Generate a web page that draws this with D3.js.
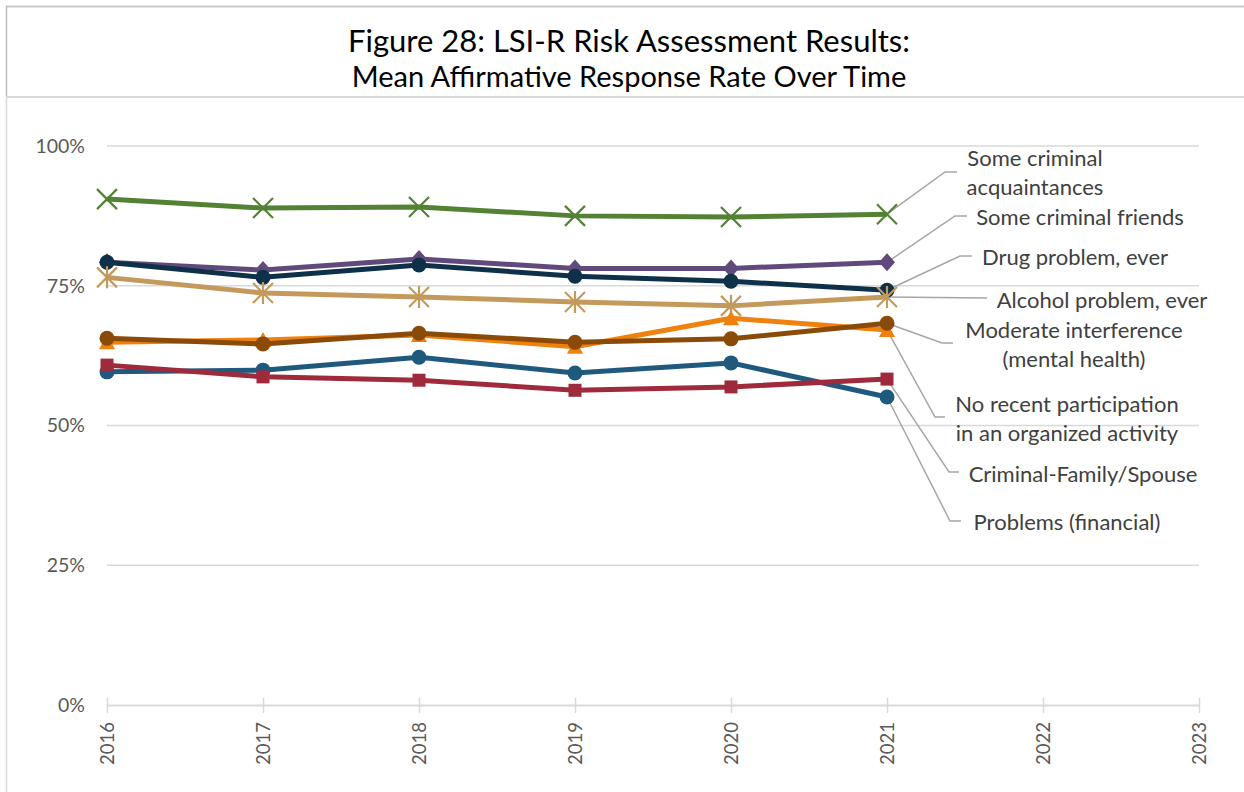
<!DOCTYPE html>
<html lang="en">
<head>
    <meta charset="UTF-8">
    <title>Figure 28: LSI-R Risk Assessment Results</title>
    <script src="https://cdn.jsdelivr.net/npm/d3@7"></script>
    <style>
        body {
            margin: 0;
            padding: 0;
            background: #fff;
            font-family: Lato, "Open Sans", sans-serif;
        }
    </style>
</head>
<body>
    <div id="chart"></div>

    <script>
        // data
        const years = [2016, 2017, 2018, 2019, 2020, 2021, 2022, 2023];
        const dataYears = [2016, 2017, 2018, 2019, 2020, 2021];
        const yTicks = [0, 25, 50, 75, 100];

        const acquaintances = [90.5, 88.9, 89.1, 87.5, 87.3, 87.8];
        const friends = [79.2, 77.8, 79.8, 78.1, 78.1, 79.2];
        const drug = [79.2, 76.5, 78.7, 76.7, 75.8, 74.2];
        const alcohol = [76.5, 73.7, 73.0, 72.1, 71.4, 73.0];
        const financial = [59.6, 59.9, 62.2, 59.4, 61.2, 55.1];
        const family = [60.8, 58.7, 58.1, 56.3, 56.9, 58.3];
        const organized = [64.9, 65.3, 66.2, 64.1, 69.2, 67.1];
        const mental = [65.6, 64.6, 66.5, 64.9, 65.5, 68.3];

        // drawing order: first drawn lies underneath
        const series = [
            { name: ["Some criminal", "acquaintances"], values: acquaintances, color: "#548235", marker: "x",
              lab: [1035, 158], elbow: [945, 172, 957] },
            { name: ["Some criminal friends"], values: friends, color: "#604A7B", marker: "diamond",
              lab: [1080, 217], elbow: [955, 216, 967] },
            { name: ["Drug problem, ever"], values: drug, color: "#0E3049", marker: "circle",
              lab: [1075, 257], elbow: [960, 256, 972] },
            { name: ["Alcohol problem, ever"], values: alcohol, color: "#C49A5C", marker: "star",
              lab: [1102, 300], elbow: [987, 298, 987] },
            { name: ["Problems (financial)"], values: financial, color: "#1F5A7E", marker: "circle",
              lab: [1067, 522], elbow: [950, 521, 961] },
            { name: ["Criminal-Family/Spouse"], values: family, color: "#9E2A3C", marker: "square",
              lab: [1083, 474], elbow: [949, 472, 959] },
            { name: ["No recent participation", "in an organized activity"], values: organized, color: "#F0810F", marker: "triangle",
              lab: [1067, 404], elbow: [935, 417, 945] },
            { name: ["Moderate interference", "(mental health)"], values: mental, color: "#8A4B08", marker: "circle",
              lab: [1074, 330], elbow: [942, 343, 953] }
        ];

        const width = 1244, height = 792;
        const svg = d3.select("#chart").append("svg")
            .attr("width", width)
            .attr("height", height);

        // frame
        svg.append("line").attr("x1", 6).attr("x2", width).attr("y1", 6.5).attr("y2", 6.5)
            .attr("stroke", "#C9C9C9").attr("stroke-width", 2);
        svg.append("line").attr("x1", 6.5).attr("x2", 6.5).attr("y1", 6).attr("y2", 97)
            .attr("stroke", "#BDBDBD").attr("stroke-width", 1.5);
        svg.append("line").attr("x1", 6.5).attr("x2", 6.5).attr("y1", 97).attr("y2", height)
            .attr("stroke", "#D9D9D9").attr("stroke-width", 1.5);
        svg.append("line").attr("x1", 6).attr("x2", width).attr("y1", 97).attr("y2", 97)
            .attr("stroke", "#D9D9D9").attr("stroke-width", 2);

        // title
        svg.append("text").attr("x", 629).attr("y", 52).attr("text-anchor", "middle")
            .attr("font-size", 31).attr("fill", "#000")
            .text("Figure 28: LSI-R Risk Assessment Results:");
        svg.append("text").attr("x", 629).attr("y", 87).attr("text-anchor", "middle")
            .attr("font-size", 29).attr("fill", "#000")
            .text("Mean Affirmative Response Rate Over Time");

        const x = d3.scaleLinear().domain([2016, 2023]).range([107, 1199]);
        const y = d3.scaleLinear().domain([0, 100]).range([705, 146]);

        // gridlines
        svg.append("g").selectAll("line")
            .data(yTicks.filter(d => d > 0))
            .join("line")
            .attr("x1", x(2016)).attr("x2", x(2023))
            .attr("y1", d => y(d)).attr("y2", d => y(d))
            .attr("stroke", "#D9D9D9").attr("stroke-width", 1.5);

        // y axis labels
        const yAxis = svg.append("g")
            .attr("transform", `translate(${x(2016)},0)`)
            .call(d3.axisLeft(y).tickValues(yTicks).tickFormat(d => d + "%").tickSize(0).tickPadding(22));
        yAxis.select(".domain").remove();
        yAxis.selectAll("text").attr("font-size", 19.5).attr("fill", "#595959")
            .attr("font-family", "Lato, sans-serif");

        // x axis
        const xAxis = svg.append("g")
            .attr("transform", `translate(0,${y(0)})`)
            .call(d3.axisBottom(x).tickValues(years).tickFormat(d3.format("d")).tickSize(8).tickSizeOuter(0));
        xAxis.select(".domain").attr("stroke", "#D9D9D9").attr("stroke-width", 2);
        xAxis.selectAll(".tick line").attr("stroke", "#D9D9D9").attr("stroke-width", 1.5).attr("y1", -7);
        xAxis.selectAll(".tick text")
            .attr("font-size", 18.5).attr("fill", "#595959")
            .attr("font-family", "Lato, sans-serif")
            .attr("transform", "rotate(-90)")
            .attr("text-anchor", "end")
            .attr("x", -17).attr("y", 0).attr("dy", "0.35em");

        // leader lines and labels
        const lastYear = dataYears[dataYears.length - 1];
        const labels = svg.append("g");
        series.forEach(s => {
            const px = x(lastYear), py = y(s.values[s.values.length - 1]);
            labels.append("polyline")
                .attr("points", `${px},${py} ${s.elbow[0]},${s.elbow[1]} ${s.elbow[2]},${s.elbow[1]}`)
                .attr("fill", "none").attr("stroke", "#A6A6A6").attr("stroke-width", 1.5);
            s.name.forEach((t, i) => {
                labels.append("text")
                    .attr("x", s.lab[0]).attr("y", s.lab[1] + i * 29)
                    .attr("dy", "0.35em")
                    .attr("text-anchor", "middle")
                    .attr("font-size", 22).attr("fill", "#404040")
                    .text(t);
            });
        });

        // series lines
        const line = d3.line()
            .x((d, i) => x(dataYears[i]))
            .y(d => y(d));

        series.forEach(s => {
            const g = svg.append("g");
            g.append("path")
                .datum(s.values)
                .attr("d", line)
                .attr("fill", "none")
                .attr("stroke", s.color)
                .attr("stroke-width", 5)
                .attr("stroke-linejoin", "round");

            const pts = g.selectAll("g.pt")
                .data(s.values)
                .join("g")
                .attr("transform", (d, i) => `translate(${x(dataYears[i])},${y(d)})`);

            if (s.marker === "circle") {
                pts.append("circle").attr("r", 7.5).attr("fill", s.color);
            } else if (s.marker === "square") {
                pts.append("rect").attr("x", -6.5).attr("y", -6.5).attr("width", 13).attr("height", 13)
                    .attr("fill", s.color);
            } else if (s.marker === "diamond") {
                pts.append("path").attr("d", "M0,-9L8,0L0,9L-8,0Z").attr("fill", s.color);
            } else if (s.marker === "triangle") {
                pts.append("path").attr("d", "M0,-8L8,7L-8,7Z").attr("fill", s.color);
            } else if (s.marker === "x" || s.marker === "star") {
                const r = 10;
                pts.append("path")
                    .attr("d", `M${-r},${-r}L${r},${r}M${-r},${r}L${r},${-r}` + (s.marker === "star" ? `M0,${-r - 1}L0,${r + 1}` : ""))
                    .attr("stroke", s.color).attr("stroke-width", 2.2).attr("fill", "none");
            }
        });
    </script>
</body>
</html>
